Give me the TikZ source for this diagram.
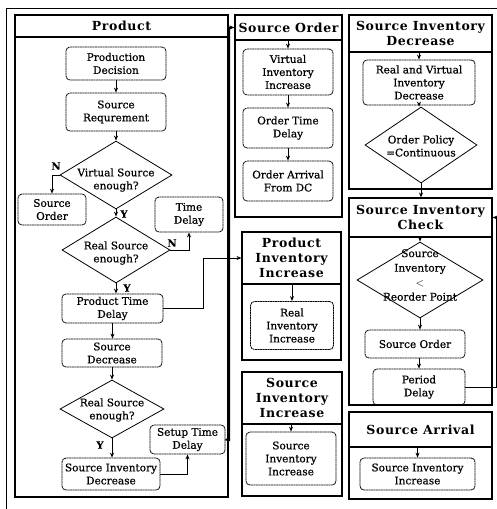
\documentclass[tikz,border=0pt]{standalone}
\usepackage{fontspec}
\setmainfont{DejaVu Serif}[FakeBold=0.6]
\newfontfamily\headfont[LetterSpace=5]{DejaVu Serif}
\usetikzlibrary{arrows.meta,shapes.geometric}
\begin{document}
\begin{tikzpicture}[x=1pt,y=-1pt,
  font=\fontsize{10.5}{13}\selectfont,
  lanehead/.style={draw,line width=1.1pt,rectangle,inner sep=0pt,align=center,
    font=\headfont\bfseries\fontsize{12.5}{15}\selectfont},
  lanebody/.style={draw,line width=1.1pt,rectangle,inner sep=0pt},
  stepbox/.style={draw,line width=0.8pt,dash pattern=on 2pt off 0.5pt,rounded corners=4pt,
    inner sep=0pt,align=center},
  decide/.style={draw,line width=0.8pt,diamond,inner sep=0pt},
  dtext/.style={align=center,font=\fontsize{10.5}{13}\selectfont},
  arr/.style={line width=0.9pt,-{Stealth[length=5pt,width=4pt]}},
  tag/.style={font=\bfseries\fontsize{10}{11}\selectfont,inner sep=0pt}]
\useasboundingbox (0,0) rectangle (497,509);
% outer frame
\draw[line width=0.9pt] (6,509) -- (6,8) -- (497,8);

% ---- Product lane ----
\node[lanebody,minimum width=213pt,minimum height=460pt] (pbody) at (121.5,267) {};
\node[lanehead,minimum width=213pt,minimum height=22pt] (phead) at (121.5,26) {Product};
\node[stepbox,minimum width=100pt,minimum height=33pt] (pd) at (116,63.5) {Production\\Decision};
\node[stepbox,minimum width=100pt,minimum height=38pt] (sr) at (116,112) {Source\\Requrement};
\node[decide,minimum width=112pt,minimum height=68pt] (vs) at (116,175) {};
\node[dtext] (vst) at (116,180) {Virtual Source\\enough?};
\node[stepbox,minimum width=68pt,minimum height=31pt] (so1) at (52,209.5) {Source\\Order};
\node[stepbox,minimum width=68pt,minimum height=35pt] (td) at (189,214.5) {Time\\Delay};
\node[decide,minimum width=108pt,minimum height=66pt] (rs1) at (116,250) {};
\node[dtext] (rs1t) at (116,253) {Real Source\\enough?};
\node[stepbox,minimum width=101pt,minimum height=29pt] (ptd) at (112.5,308.5) {Product Time\\Delay};
\node[stepbox,minimum width=100pt,minimum height=28pt] (sd) at (112,353) {Source\\Decrease};
\node[decide,minimum width=104pt,minimum height=58pt] (rs2) at (112,409) {};
\node[dtext] (rs2t) at (112,410) {Real Source\\enough?};
\node[stepbox,minimum width=75pt,minimum height=29pt] (std) at (187.5,439.5) {Setup Time\\Delay};
\node[stepbox,minimum width=98pt,minimum height=32pt] (sid) at (111,474) {Source Inventory\\Decrease};

\draw[arr] (pd.south) -- (pd.south |- sr.north);
\draw[arr] (sr.south) -- (sr.south |- vs.north);
\draw[arr] (vs.west) -| (so1.north);
\node[tag] (n1) at (56,166) {N};
\draw[arr] (vs.south) -- (vs.south |- rs1.north);
\node[tag] (y1) at (124,214) {Y};
\draw[arr] (rs1.east) -| (td.south);
\node[tag] (n2) at (172,243) {N};
\draw[arr] (rs1.south) -- (rs1.south |- ptd.north);
\node[tag] (y2) at (127,288) {Y};
\draw[arr] (ptd.south) -- (ptd.south |- sd.north);
\draw[arr] (sd.south) -- (sd.south |- rs2.north);
\draw[arr] (rs2.south) -- (rs2.south |- sid.north);
\node[tag] (y3) at (100,445) {Y};
\draw[arr] (sid.east) -| (std.south);

% ---- Source Order lane ----
\node[lanebody,minimum width=107pt,minimum height=177pt] (sobody) at (288.5,128.5) {};
\node[lanehead,minimum width=107pt,minimum height=25pt] (sohead) at (288.5,27.5) {Source Order};
\node[stepbox,minimum width=90pt,minimum height=46pt] (vii) at (288,72) {Virtual\\Inventory\\Increase};
\node[stepbox,minimum width=90pt,minimum height=40pt] (otd) at (288,128) {Order Time\\Delay};
\node[stepbox,minimum width=90pt,minimum height=40pt] (oad) at (288,181) {Order Arrival\\From DC};
\draw[arr] (sohead.south -| vii.north) -- (vii.north);
\draw[arr] (vii.south) -- (vii.south |- otd.north);
\draw[arr] (otd.south) -- (otd.south |- oad.north);

% ---- Product Inventory Increase lane ----
\node[lanebody,minimum width=99pt,minimum height=76pt] (pibody) at (291.5,322) {};
\node[lanehead,minimum width=99pt,minimum height=52pt] (pihead) at (291.5,258) {Product\\Inventory\\Increase};
\node[stepbox,minimum width=83pt,minimum height=48pt] (rii) at (292,325.5) {Real\\Inventory\\Increase};
\draw[arr] (pihead.south -| rii.north) -- (rii.north);

% ---- Source Inventory Increase lane ----
\node[lanebody,minimum width=100pt,minimum height=72pt] (siibody) at (292,460) {};
\node[lanehead,minimum width=100pt,minimum height=52pt] (siihead) at (292,398) {Source\\Inventory\\Increase};
\node[stepbox,minimum width=90pt,minimum height=53pt] (sii) at (291,458.5) {Source\\Inventory\\Increase};
\draw[arr] (siihead.south -| sii.north) -- (sii.north);

% ---- Source Inventory Decrease lane ----
\node[lanebody,minimum width=143pt,minimum height=137pt] (sidbody) at (420.5,120.5) {};
\node[lanehead,minimum width=143pt,minimum height=37pt] (sidhead) at (420.5,33.5) {Source Inventory\\Decrease};
\node[stepbox,minimum width=112pt,minimum height=45pt] (rvid) at (419,82.5) {Real and Virtual\\Inventory\\Decrease};
\node[decide,minimum width=112pt,minimum height=76pt] (op) at (421,145) {};
\node[dtext] (opt) at (421,146) {Order Policy\\=Continuous};
\draw[arr] (sidhead.south -| rvid.north) -- (rvid.north);
\draw[arr] (rvid.south) -- (rvid.south |- op.north);

% ---- Source Inventory Check lane ----
\node[lanebody,minimum width=143pt,minimum height=168pt] (sicbody) at (420.5,321) {};
\node[lanehead,minimum width=143pt,minimum height=39pt] (sichead) at (420.5,217.5) {Source Inventory\\Check};
\node[decide,minimum width=126pt,minimum height=76pt] (rop) at (420,280) {};
\node[dtext,font=\fontsize{10.5}{14.5}\selectfont] (ropt) at (420,275) {Source\\Inventory\\$<$\\Reorder Point};
\node[stepbox,minimum width=100pt,minimum height=28pt] (sorder) at (415,344) {Source Order};
\node[stepbox,minimum width=92pt,minimum height=36pt] (perd) at (419,387) {Period\\Delay};
\draw[arr] (op.south) -- (op.south |- sichead.north);
\draw[arr] (sichead.south -| rop.north) -- (rop.north);
\draw[arr] (rop.south) -- (rop.south |- sorder.north);
\draw[arr] (sorder.south -| perd.north) -- (perd.north);
\coordinate (loop) at (496,387);
\draw[arr] (perd.east) -- (loop) |- (sichead.east);

% ---- Source Arrival lane ----
\node[lanebody,minimum width=143pt,minimum height=52pt] (sabody) at (420.5,473) {};
\node[lanehead,minimum width=143pt,minimum height=35pt] (sahead) at (420.5,429.5) {Source Arrival};
\node[stepbox,minimum width=115pt,minimum height=32pt] (sai) at (417.5,474) {Source Inventory\\Increase};
\draw[arr] (sahead.south -| sai.north) -- (sai.north);

% ---- links between lanes ----
\coordinate (up1) at (229,440);
\draw[arr,line width=2pt] (std.east) -- (up1) |- (sohead.west);
\coordinate (up2) at (203,308.5);
\draw[arr] (ptd.east) -- (up2) |- (pihead.west);
\end{tikzpicture}
\end{document}
